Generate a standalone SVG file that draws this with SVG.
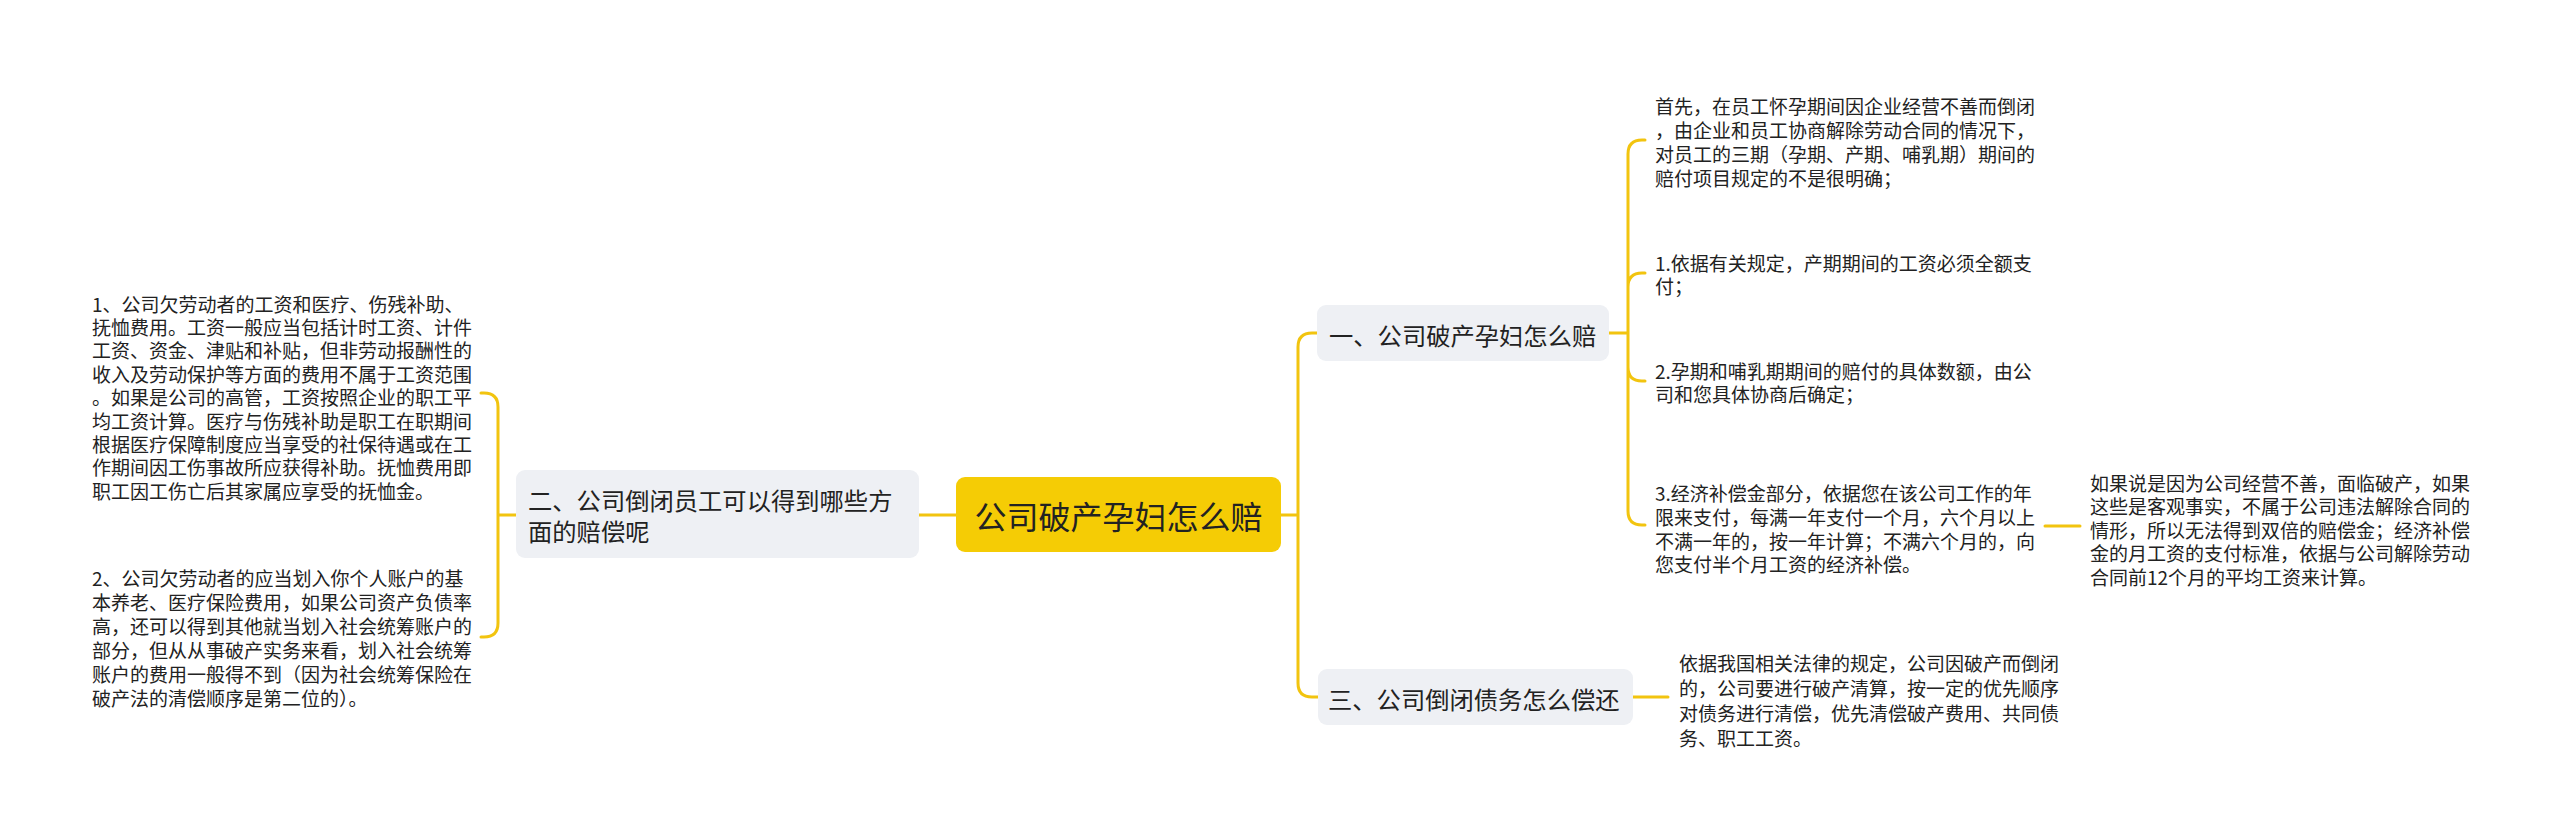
<svg xmlns="http://www.w3.org/2000/svg" width="2560" height="836" viewBox="0 0 2560 836">
<style>
text{font-family:"Noto Sans CJK SC","Noto Sans",sans-serif;fill:#222;dominant-baseline:central}
.leaf{font-size:19px}
.sub{font-size:24.3px}
.main{font-size:32px}
.box{fill:#eef0f4}
.link{fill:none;stroke:#f2c40f;stroke-width:3;stroke-linecap:round}
</style>
<rect width="2560" height="836" fill="#ffffff"/>
<g id="connectors">
<path class="link" d="M1281 515 H1298 M1298 515 V347 Q1298 333 1312 333 H1317 M1298 515 V683 Q1298 697 1312 697 H1318"/>
<path class="link" d="M956 515 H919"/>
<path class="link" d="M517 515 H498 M498 515 V407 Q498 393 484 393 H481 M498 515 V623 Q498 637 484 637 H481"/>
<path class="link" d="M1609 333 H1628 M1628 333 V154 Q1628 140 1642 140 H1645 M1628 333 V287 Q1628 273 1642 273 H1645 M1628 333 V367 Q1628 381 1642 381 H1645 M1628 333 V511 Q1628 525 1642 525 H1645"/>
<path class="link" d="M2045 526 H2080"/>
<path class="link" d="M1633 697 H1668"/>
</g>
<g id="center">
<rect x="956" y="477" width="325" height="75" rx="9" fill="#f5cc05"/>
<text class="main" x="1118.5" y="515" text-anchor="middle">公司破产孕妇怎么赔</text>
</g>
<g id="node-left">
<rect class="box" x="516" y="470" width="403" height="88" rx="9"/>
<text class="sub" x="528" y="499">二、公司倒闭员工可以得到哪些方</text>
<text class="sub" x="528" y="530">面的赔偿呢</text>
</g>
<g id="node-r1">
<rect class="box" x="1317" y="305" width="292" height="56" rx="9"/>
<text class="sub" x="1329" y="334">一、公司破产孕妇怎么赔</text>
</g>
<g id="node-r3">
<rect class="box" x="1318" y="669" width="315" height="56" rx="9"/>
<text class="sub" x="1328" y="698">三、公司倒闭债务怎么偿还</text>
</g>
<g id="leaf-l1" class="leaf">
<text x="92" y="303">1、公司欠劳动者的工资和医疗、伤残补助、</text>
<text x="92" y="326.4">抚恤费用。工资一般应当包括计时工资、计件</text>
<text x="92" y="349.8">工资、资金、津贴和补贴，但非劳动报酬性的</text>
<text x="92" y="373.2">收入及劳动保护等方面的费用不属于工资范围</text>
<text x="92" y="396.6">。如果是公司的高管，工资按照企业的职工平</text>
<text x="92" y="420">均工资计算。医疗与伤残补助是职工在职期间</text>
<text x="92" y="443.4">根据医疗保障制度应当享受的社保待遇或在工</text>
<text x="92" y="466.8">作期间因工伤事故所应获得补助。抚恤费用即</text>
<text x="92" y="490.2">职工因工伤亡后其家属应享受的抚恤金。</text>
</g>
<g id="leaf-l2" class="leaf">
<text x="92" y="577">2、公司欠劳动者的应当划入你个人账户的基</text>
<text x="92" y="601">本养老、医疗保险费用，如果公司资产负债率</text>
<text x="92" y="625">高，还可以得到其他就当划入社会统筹账户的</text>
<text x="92" y="649">部分，但从从事破产实务来看，划入社会统筹</text>
<text x="92" y="673">账户的费用一般得不到（因为社会统筹保险在</text>
<text x="92" y="697">破产法的清偿顺序是第二位的）。</text>
</g>
<g id="leaf-r1a" class="leaf">
<text x="1655" y="105">首先，在员工怀孕期间因企业经营不善而倒闭</text>
<text x="1655" y="129">，由企业和员工协商解除劳动合同的情况下，</text>
<text x="1655" y="153">对员工的三期（孕期、产期、哺乳期）期间的</text>
<text x="1655" y="177">赔付项目规定的不是很明确；</text>
</g>
<g id="leaf-r1b" class="leaf">
<text x="1655" y="262">1.依据有关规定，产期期间的工资必须全额支</text>
<text x="1655" y="285">付；</text>
</g>
<g id="leaf-r1c" class="leaf">
<text x="1655" y="370">2.孕期和哺乳期期间的赔付的具体数额，由公</text>
<text x="1655" y="393">司和您具体协商后确定；</text>
</g>
<g id="leaf-r1d" class="leaf">
<text x="1655" y="492">3.经济补偿金部分，依据您在该公司工作的年</text>
<text x="1655" y="516">限来支付，每满一年支付一个月，六个月以上</text>
<text x="1655" y="540">不满一年的，按一年计算；不满六个月的，向</text>
<text x="1655" y="563">您支付半个月工资的经济补偿。</text>
</g>
<g id="leaf-r1d1" class="leaf">
<text x="2090" y="482">如果说是因为公司经营不善，面临破产，如果</text>
<text x="2090" y="505.5">这些是客观事实，不属于公司违法解除合同的</text>
<text x="2090" y="529">情形，所以无法得到双倍的赔偿金；经济补偿</text>
<text x="2090" y="552.5">金的月工资的支付标准，依据与公司解除劳动</text>
<text x="2090" y="576">合同前12个月的平均工资来计算。</text>
</g>
<g id="leaf-r3" class="leaf">
<text x="1679" y="662">依据我国相关法律的规定，公司因破产而倒闭</text>
<text x="1679" y="687">的，公司要进行破产清算，按一定的优先顺序</text>
<text x="1679" y="712">对债务进行清偿，优先清偿破产费用、共同债</text>
<text x="1679" y="737">务、职工工资。</text>
</g>
</svg>
